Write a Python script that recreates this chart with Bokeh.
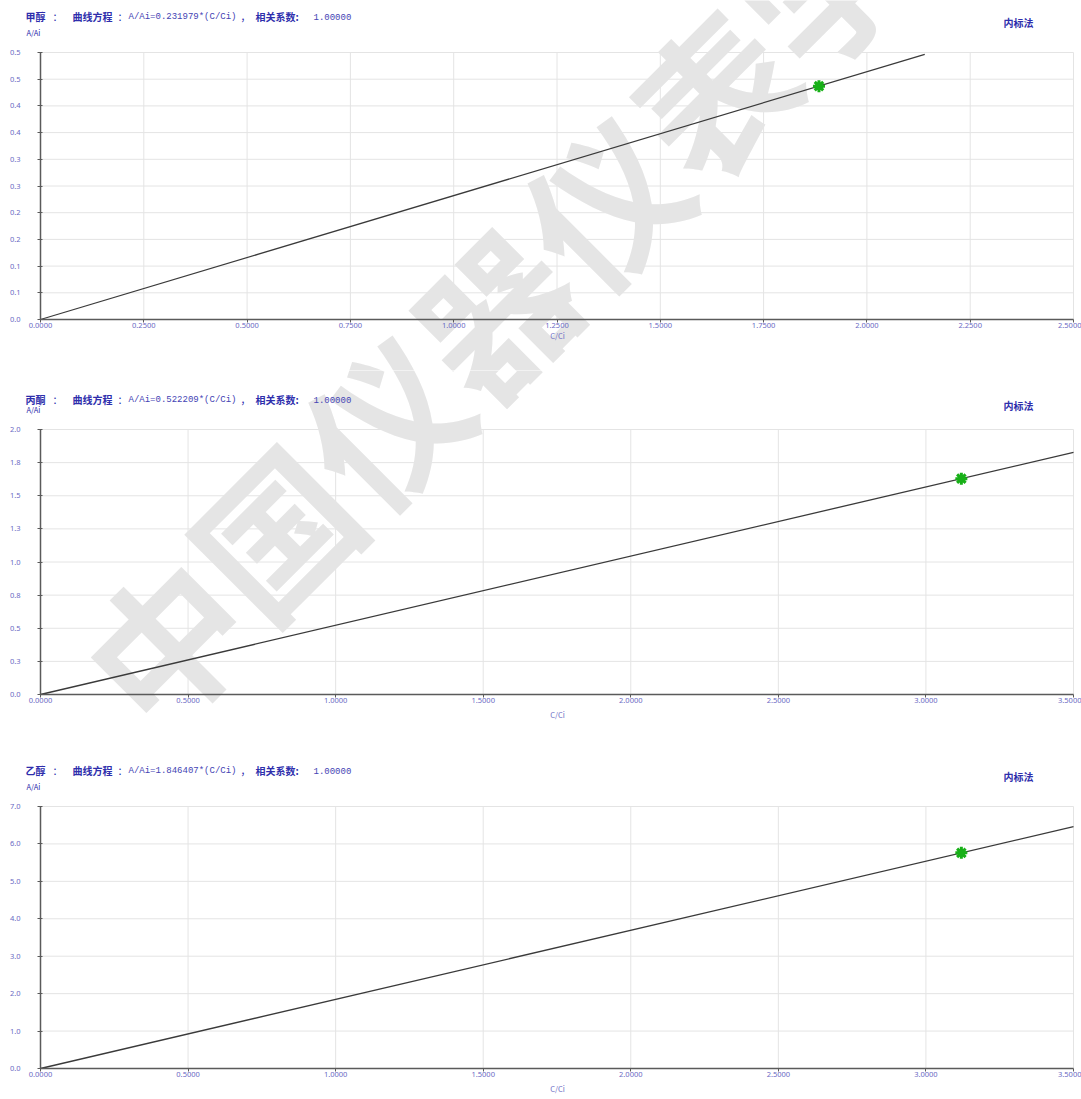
from bokeh.plotting import figure
from bokeh.models import Label, FixedTicker, Range1d, LinearAxis
from bokeh.layouts import column
from bokeh.embed import file_html
from bokeh.resources import INLINE

# ---------------- data ----------------
compounds = ["甲醇", "丙酮", "乙醇"]
equations = ["A/Ai=0.231979*(C/Ci)", "A/Ai=0.522209*(C/Ci)", "A/Ai=1.846407*(C/Ci)"]
correlations = ["1.00000", "1.00000", "1.00000"]
method = "内标法"
x_title = "C/Ci"
y_title = "A/Ai"
watermark = "中国仪器仪表学会"

# calibration lines (end points) and measured points
line1_x = [0.0, 2.14]
line1_y = [0.0, 0.4965]
line2_x = [0.0, 3.5]
line2_y = [0.0, 1.8277]
line3_x = [0.0, 3.5]
line3_y = [0.0, 6.4624]
pt1_x = [1.884]
pt1_y = [0.437]
pt2_x = [3.12]
pt2_y = [1.629]
pt3_x = [3.12]
pt3_y = [5.761]

x1_ticks = [0.0, 0.25, 0.5, 0.75, 1.0, 1.25, 1.5, 1.75, 2.0, 2.25, 2.5]
x1_labels = ["0.0000", "0.2500", "0.5000", "0.7500", "1.0000", "1.2500",
             "1.5000", "1.7500", "2.0000", "2.2500", "2.5000"]
x23_ticks = [0.0, 0.5, 1.0, 1.5, 2.0, 2.5, 3.0, 3.5]
x23_labels = ["0.0000", "0.5000", "1.0000", "1.5000", "2.0000", "2.5000", "3.0000", "3.5000"]
y1_ticks = [0.0, 0.05, 0.1, 0.15, 0.2, 0.25, 0.3, 0.35, 0.4, 0.45, 0.5]
y1_labels = ["0.0", "0.1", "0.1", "0.2", "0.2", "0.3", "0.3", "0.4", "0.4", "0.5", "0.5"]
y2_ticks = [0.0, 0.25, 0.5, 0.75, 1.0, 1.25, 1.5, 1.75, 2.0]
y2_labels = ["0.0", "0.3", "0.5", "0.8", "1.0", "1.3", "1.5", "1.8", "2.0"]
y3_ticks = [0.0, 1.0, 2.0, 3.0, 4.0, 5.0, 6.0, 7.0]
y3_labels = ["0.0", "1.0", "2.0", "3.0", "4.0", "5.0", "6.0", "7.0"]

# ---------------- style / layout ----------------
TITLE_C = "#2e2eac"
EQ_C = "#4444b4"
TICK_C = "#6a6ac4"
GRID_C = "#e4e4e4"
AXIS_C = "#5a5a5a"
CJK = "Noto Sans CJK SC"
MONO = "Liberation Mono"
W = 1081
FRAME_L, FRAME_R = 40, 1073


def make_panel(idx, top, bottom, ft, fb, xmax, ymax, xt, xl, yt, yl,
               lx, ly, px, py, title_y, ytitle_y, xtitle_y):
    sxp = (FRAME_R - FRAME_L) / xmax
    syp = (fb - ft) / ymax
    xr = Range1d(-FRAME_L / sxp, xmax + (W - FRAME_R) / sxp)
    yr = Range1d(-(bottom - fb) / syp, ymax + (ft - top) / syp)
    p = figure(width=W, height=bottom - top, x_range=xr, y_range=yr,
               x_axis_location=None, y_axis_location=None,
               output_backend="svg", toolbar_location=None,
               min_border=0, min_border_left=0, min_border_right=0,
               min_border_top=0, min_border_bottom=0)
    p.outline_line_color = None
    p.background_fill_color = "white"
    p.border_fill_color = "white"
    for g in p.grid:
        g.visible = False

    # grid lines at the tick positions
    p.segment(x0=xt, y0=[0.0] * len(xt), x1=xt, y1=[ymax] * len(xt),
              line_color=GRID_C, line_width=1, level="underlay")
    p.segment(x0=[0.0] * len(yt), y0=yt, x1=[xmax] * len(yt), y1=yt,
              line_color=GRID_C, line_width=1, level="underlay")

    # watermark
    p.add_layout(Label(x=107, y=bottom - 693, x_units="screen", y_units="screen",
                       text=watermark, angle=45, angle_units="deg",
                       text_font_size="155px", text_color="#e5e5e5", text_font=CJK,
                       text_font_style="bold", text_align="left", text_baseline="middle",
                       level="underlay"))

    xaxis = LinearAxis(fixed_location=0, bounds=(0, xmax), ticker=FixedTicker(ticks=xt),
                       major_label_overrides=dict(zip(xt, xl)))
    yaxis = LinearAxis(fixed_location=0, bounds=(0, ymax), ticker=FixedTicker(ticks=yt),
                       major_label_overrides=dict(zip(yt, yl)))
    for ax in (xaxis, yaxis):
        ax.minor_tick_line_color = None
        ax.axis_line_color = AXIS_C
        ax.axis_line_width = 1.5
        ax.major_tick_line_color = AXIS_C
        ax.major_label_text_color = TICK_C
        ax.major_label_text_font_size = "7.5px"
        ax.major_label_text_font = "Noto Sans"
    xaxis.major_tick_in = 0
    xaxis.major_tick_out = 3
    xaxis.major_label_standoff = 0
    yaxis.major_tick_in = 2
    yaxis.major_tick_out = 3
    yaxis.major_label_standoff = 17
    p.add_layout(xaxis, "below")
    p.add_layout(yaxis, "left")

    p.line(lx, ly, line_color="#3a3a3a", line_width=1.3)
    p.scatter(px, py, marker="square", size=7, fill_color="#2cc42c", line_color=None)
    p.scatter(px, py, marker="asterisk", size=12, line_color="#17b017", line_width=3)

    def txt(X, Y, text, size, color, align="left", style="normal", font=CJK):
        p.add_layout(Label(x=X, y=bottom - Y, x_units="screen", y_units="screen",
                           text=text, text_font_size=f"{size}px", text_color=color,
                           text_align=align, text_baseline="middle", text_font=font,
                           text_font_style=style))

    txt(25, title_y, compounds[idx], 10, TITLE_C, style="bold")
    txt(52, title_y, "：", 10, TITLE_C)
    txt(72, title_y, "曲线方程", 10, TITLE_C, style="bold")
    txt(117, title_y, "：", 10, TITLE_C)
    txt(128, title_y, equations[idx], 9, EQ_C, font=MONO)
    txt(240, title_y, "，", 10, TITLE_C)
    txt(255, title_y, "相关系数:", 10, TITLE_C, style="bold")
    txt(313, title_y, correlations[idx], 9, EQ_C, font=MONO)
    txt(1018, title_y + 6, method, 10, TITLE_C, align="center", style="bold")
    txt(26, ytitle_y, y_title, 7.5, TITLE_C)
    txt(557, xtitle_y, x_title, 7.5, TICK_C, align="center")
    return p


p1 = make_panel(0, 0, 370, 52, 319, 2.5, 0.5, x1_ticks, x1_labels, y1_ticks, y1_labels,
                line1_x, line1_y, pt1_x, pt1_y, 16, 32, 335)
p2 = make_panel(1, 370, 740, 429, 694, 3.5, 2.0, x23_ticks, x23_labels, y2_ticks, y2_labels,
                line2_x, line2_y, pt2_x, pt2_y, 399, 409, 714)
p3 = make_panel(2, 740, 1099, 806, 1068, 3.5, 7.0, x23_ticks, x23_labels, y3_ticks, y3_labels,
                line3_x, line3_y, pt3_x, pt3_y, 770, 786, 1088)

layout = column(p1, p2, p3, spacing=0)
open("out.html", "w").write(file_html(layout, INLINE))
